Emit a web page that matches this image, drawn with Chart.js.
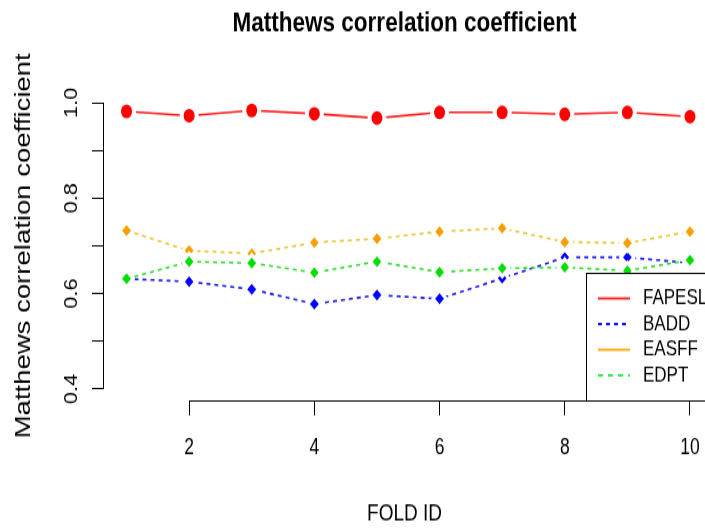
<!DOCTYPE html>
<html>
<head>
<meta charset="utf-8">
<script src="https://cdn.jsdelivr.net/npm/chart.js@4.4.1/dist/chart.umd.min.js"></script>
<style>
  html, body { margin: 0; padding: 0; background: #fff; width: 705px; height: 528px; }
  /* the original picture is stretched vertically, so the canvas is too */
  #wrap { width: 705px; height: 422px; transform: scale(1, 1.2512); transform-origin: 0 0; }
</style>
</head>
<body>
<div id="wrap"><canvas id="grafico" width="705" height="422"></canvas></div>
<script>
const folds = [1, 2, 3, 4, 5, 6, 7, 8, 9, 10];
const fapesl = [0.982, 0.973, 0.984, 0.977, 0.968, 0.980, 0.980, 0.976, 0.980, 0.971];
const badd   = [0.631, 0.625, 0.609, 0.578, 0.597, 0.589, 0.632, 0.676, 0.676, 0.664];
const easff  = [0.732, 0.690, 0.684, 0.707, 0.715, 0.730, 0.737, 0.708, 0.706, 0.730];
const edpt   = [0.631, 0.667, 0.664, 0.644, 0.667, 0.645, 0.653, 0.655, 0.648, 0.670];

const seriesNames = ['FAPESL', 'BADD', 'EASFF', 'EDPT'];
const xTicks = [2, 4, 6, 8, 10];
const yTicks = [0.4, 0.5, 0.6, 0.7, 0.8, 0.9, 1.0];
const yTickLabels = ['0.4', '', '0.6', '', '0.8', '', '1.0'];

const fonte = "'Liberation Sans', Arial, Helvetica, sans-serif";
Chart.defaults.font.family = fonte;
Chart.defaults.color = '#000';

function pontos(valores) {
  return folds.map((f, i) => ({ x: f, y: valores[i] }));
}

// R draws its axes only between the first and last tick
const axisLines = {
  id: 'axisLines',
  afterDraw(chart) {
    const { ctx, chartArea, scales: { x, y } } = chart;
    const left = Math.round(chartArea.left) - 0.5;
    const bottom = Math.round(chartArea.bottom) + 0.5;
    ctx.save();
    ctx.strokeStyle = '#000';
    ctx.lineWidth = 1;
    ctx.beginPath();
    ctx.moveTo(left, y.getPixelForValue(yTicks[0]));
    ctx.lineTo(left, y.getPixelForValue(yTicks[yTicks.length - 1]));
    ctx.moveTo(x.getPixelForValue(xTicks[0]), bottom);
    ctx.lineTo(x.getPixelForValue(xTicks[xTicks.length - 1]), bottom);
    ctx.stroke();
    ctx.restore();
  }
};

// legend box in the bottom right corner of the plot
const legendBox = {
  id: 'legendBox',
  afterDraw(chart) {
    const ctx = chart.ctx;
    const bottom = Math.round(chart.chartArea.bottom) + 0.5;
    const left = 586.5, top = 218.5;
    ctx.save();
    ctx.fillStyle = '#fff';
    ctx.fillRect(left, top, 200, bottom - top);
    ctx.strokeStyle = '#000';
    ctx.lineWidth = 1;
    ctx.strokeRect(left, top, 200, bottom - top);
    ctx.font = '17px ' + fonte;
    ctx.textBaseline = 'middle';
    ctx.textAlign = 'left';
    chart.data.datasets.forEach((ds, i) => {
      const yy = top + 20 + i * 20.5;
      ctx.strokeStyle = ds.legendColor;
      ctx.lineWidth = 1.8;
      ctx.setLineDash(ds.legendDash);
      ctx.beginPath();
      ctx.moveTo(598, yy);
      ctx.lineTo(630, yy);
      ctx.stroke();
      ctx.setLineDash([]);
      ctx.fillStyle = '#000';
      ctx.fillText(ds.label, 643, yy);
    });
    ctx.restore();
  }
};

const grafico = new Chart(document.getElementById('grafico'), {
  type: 'line',
  data: {
    datasets: [
      {
        label: seriesNames[0], data: pontos(fapesl),
        borderColor: '#ff1a1a', borderWidth: 1.6,
        pointStyle: 'circle', pointRadius: 7.5,
        pointBackgroundColor: '#ff0000', pointBorderColor: '#fff', pointBorderWidth: 4,
        legendColor: '#ff2020', legendDash: [], order: 4
      },
      {
        label: seriesNames[1], data: pontos(badd),
        borderColor: '#1a1aee', borderWidth: 1.6, borderDash: [4, 4],
        pointStyle: 'rectRot', pointRadius: 6.5,
        pointBackgroundColor: '#0000ff', pointBorderColor: '#fff', pointBorderWidth: 3,
        legendColor: '#1a1aee', legendDash: [4, 4], order: 3
      },
      {
        label: seriesNames[2], data: pontos(easff),
        borderColor: '#eec430', borderWidth: 1.6, borderDash: [4, 4],
        pointStyle: 'rectRot', pointRadius: 6.5,
        pointBackgroundColor: '#f5a000', pointBorderColor: '#fff', pointBorderWidth: 3,
        legendColor: '#ffa500', legendDash: [], order: 2
      },
      {
        label: seriesNames[3], data: pontos(edpt),
        borderColor: '#30e030', borderWidth: 1.6, borderDash: [4, 4],
        pointStyle: 'rectRot', pointRadius: 6.5,
        pointBackgroundColor: '#00dd00', pointBorderColor: '#fff', pointBorderWidth: 3,
        legendColor: '#30ee50', legendDash: [5, 5], order: 1
      }
    ]
  },
  options: {
    responsive: false,
    animation: false,
    events: [],
    layout: { padding: 0, autoPadding: false },
    plugins: {
      legend: { display: false },
      tooltip: { enabled: false },
      title: {
        display: true,
        text: 'Matthews correlation coefficient',
        fullSize: false,
        color: '#000',
        font: { size: 22.5, weight: 'bold', family: fonte },
        padding: { top: 5, bottom: 41 }
      }
    },
    scales: {
      x: {
        type: 'linear',
        min: 0.64,
        max: 10.24,
        afterBuildTicks: s => { s.ticks = xTicks.map(v => ({ value: v })); },
        afterFit: s => { s.height = 102; s.paddingLeft = 0; s.paddingRight = 0; },
        border: { display: false },
        grid: { drawOnChartArea: false, drawTicks: true, tickLength: 12, color: '#000', lineWidth: 1 },
        ticks: { font: { size: 17.5 }, color: '#000', padding: 16, maxRotation: 0, autoSkip: false },
        title: { display: true, text: 'FOLD ID', color: '#000', font: { size: 19 }, padding: { top: 0, bottom: 0 } }
      },
      y: {
        min: 0.376,
        max: 1.024,
        afterBuildTicks: s => { s.ticks = yTicks.map(v => ({ value: v })); },
        afterFit: s => { s.width = 104; },
        border: { display: false },
        grid: { drawOnChartArea: false, drawTicks: true, tickLength: 12, color: '#000', lineWidth: 1 },
        ticks: {
          callback: (v, i) => yTickLabels[i],
          font: { size: 17.5 }, color: '#000',
          minRotation: 90, maxRotation: 90, crossAlign: 'center', padding: 8, autoSkip: false
        },
        title: {
          display: true, text: 'Matthews correlation coefficient', color: '#000',
          font: { size: 22 }, padding: { top: 11, bottom: 0 }
        }
      }
    }
  },
  plugins: [axisLines, legendBox]
});
</script>
</body>
</html>
